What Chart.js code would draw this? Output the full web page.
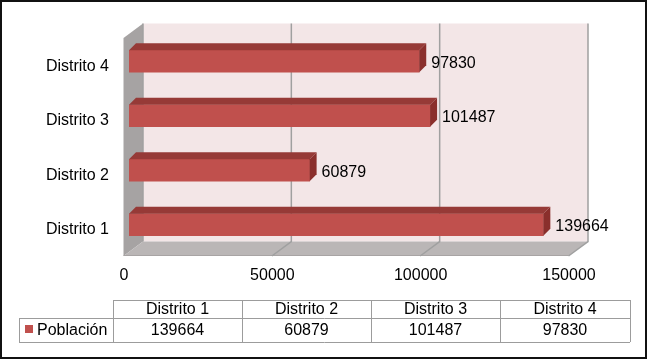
<!DOCTYPE html>
<html>
<head>
<meta charset="utf-8">
<script src="https://cdn.jsdelivr.net/npm/chart.js@4"></script>
<style>
  html, body { margin: 0; padding: 0; background: #fff; }
  #wrap { width: 649px; height: 360px; }
</style>
</head>
<body>
<div id="wrap"><canvas id="bar_chart" width="649" height="360"></canvas></div>
<script>
const distritos = ['Distrito 1', 'Distrito 2', 'Distrito 3', 'Distrito 4'];
const poblacion = [139664, 60879, 101487, 97830];
const seriesName = 'Población';
const xTicks = [0, 50000, 100000, 150000];

const FONT = '"Liberation Sans", Arial, sans-serif';
const barColor = '#c0504d';
const barTop = '#963a37';
const barSide = '#8a2f2c';

// depth of the 3d box (front plane -> back wall) and of the bars
const boxDx = 19.5, boxDy = -14.5;
const frontShiftX = -5.5, frontShiftY = 4;
const barDx = 7, barDy = -7;

const walls3d = {
  id: 'walls3d',
  beforeDatasetsDraw(chart) {
    const ctx = chart.ctx;
    const xs = chart.scales.x;
    const area = chart.chartArea;
    const fl = area.left + frontShiftX, fr = area.right + frontShiftX;
    const ft = area.top + frontShiftY, fb = area.bottom + frontShiftY;
    const bl = fl + boxDx, br = fr + boxDx, bt = ft + boxDy, bb = fb + boxDy;
    ctx.save();
    // back wall
    ctx.fillStyle = '#f3e6e7';
    ctx.fillRect(bl, bt, br - bl, bb - bt);
    // left wall
    ctx.fillStyle = '#a6a3a3';
    ctx.beginPath();
    ctx.moveTo(fl, ft); ctx.lineTo(bl, bt); ctx.lineTo(bl, bb); ctx.lineTo(fl, fb);
    ctx.closePath(); ctx.fill();
    // floor
    ctx.fillStyle = '#bab6b6';
    ctx.beginPath();
    ctx.moveTo(fl, fb); ctx.lineTo(bl, bb); ctx.lineTo(br, bb); ctx.lineTo(fr, fb);
    ctx.closePath(); ctx.fill();
    ctx.strokeStyle = '#a8a4a4';
    ctx.lineWidth = 1;
    ctx.beginPath();
    ctx.moveTo(fl, fb - 0.5); ctx.lineTo(fr, fb - 0.5);
    ctx.stroke();
    // grid lines on the back wall and the floor
    ctx.strokeStyle = '#a0a0a0';
    ctx.lineWidth = 1.5;
    xTicks.forEach((v) => {
      const x = xs.getPixelForValue(v) + frontShiftX;
      ctx.beginPath();
      ctx.moveTo(x + boxDx, bt);
      ctx.lineTo(x + boxDx, bb);
      if (v > 0) ctx.lineTo(x, fb);
      ctx.stroke();
    });
    ctx.restore();
  },
  afterDatasetsDraw(chart) {
    const ctx = chart.ctx;
    const meta = chart.getDatasetMeta(0);
    ctx.save();
    meta.data.forEach((bar, i) => {
      const p = bar.getProps(['x', 'y', 'base', 'height'], true);
      const x0 = p.base, x1 = p.x;
      const yt = p.y - p.height / 2, yb = p.y + p.height / 2;
      ctx.fillStyle = barTop;
      ctx.beginPath();
      ctx.moveTo(x0, yt); ctx.lineTo(x0 + barDx, yt + barDy);
      ctx.lineTo(x1 + barDx, yt + barDy); ctx.lineTo(x1, yt);
      ctx.closePath(); ctx.fill();
      ctx.fillStyle = barSide;
      ctx.beginPath();
      ctx.moveTo(x1, yt); ctx.lineTo(x1 + barDx, yt + barDy);
      ctx.lineTo(x1 + barDx, yb + barDy); ctx.lineTo(x1, yb);
      ctx.closePath(); ctx.fill();
      // value label
      ctx.fillStyle = '#000';
      ctx.font = '16px ' + FONT;
      ctx.textAlign = 'left';
      ctx.textBaseline = 'middle';
      ctx.fillText(String(poblacion[i]), x1 + 12, p.y + 2);
    });
    ctx.restore();
  },
  afterDraw(chart) {
    const ctx = chart.ctx;
    ctx.save();
    // data table
    const colX = [113, 242, 371, 500, 630];
    const rowY = [300, 318, 342];
    const keyLeft = 19;
    ctx.strokeStyle = '#9c9c9c';
    ctx.lineWidth = 1;
    ctx.beginPath();
    ctx.moveTo(colX[0], rowY[0] + 0.5); ctx.lineTo(colX[4], rowY[0] + 0.5);
    ctx.moveTo(keyLeft, rowY[1] + 0.5); ctx.lineTo(colX[4], rowY[1] + 0.5);
    ctx.moveTo(keyLeft, rowY[2] + 0.5); ctx.lineTo(colX[4], rowY[2] + 0.5);
    ctx.moveTo(keyLeft + 0.5, rowY[1]); ctx.lineTo(keyLeft + 0.5, rowY[2]);
    colX.forEach((x) => {
      ctx.moveTo(x + 0.5, rowY[0]); ctx.lineTo(x + 0.5, rowY[2]);
    });
    ctx.stroke();
    ctx.fillStyle = '#000';
    ctx.font = '16px ' + FONT;
    ctx.textAlign = 'center';
    ctx.textBaseline = 'middle';
    distritos.forEach((d, i) => {
      const cx = (colX[i] + colX[i + 1]) / 2;
      ctx.fillText(d, cx, (rowY[0] + rowY[1]) / 2 + 1);
      ctx.fillText(String(poblacion[i]), cx, (rowY[1] + rowY[2]) / 2 + 1);
    });
    ctx.fillStyle = barColor;
    ctx.fillRect(25, 325, 8, 8);
    ctx.fillStyle = '#000';
    ctx.textAlign = 'left';
    ctx.fillText(seriesName, 37, (rowY[1] + rowY[2]) / 2 + 1);
    // outer border
    ctx.strokeStyle = '#111';
    ctx.lineWidth = 2;
    ctx.strokeRect(1, 1, 645, 357);
    ctx.restore();
  }
};

const config = {
  type: 'bar',
  data: {
    labels: distritos,
    datasets: [{
      label: seriesName,
      data: poblacion,
      backgroundColor: barColor,
      borderWidth: 0,
      barThickness: 22
    }]
  },
  options: {
    indexAxis: 'y',
    responsive: false,
    animation: false,
    layout: {
      padding: { left: 0, top: 34, right: 75, bottom: 0 }
    },
    scales: {
      x: {
        min: 0,
        max: 150000,
        grid: { display: false, drawTicks: false },
        border: { display: false },
        afterFit: (s) => { s.height = 108; },
        ticks: {
          stepSize: 50000,
          padding: 14,
          labelOffset: -5,
          color: '#000',
          font: { size: 16, family: FONT },
          maxRotation: 0,
          callback: (v) => String(v)
        }
      },
      y: {
        reverse: true,
        grid: { display: false, drawTicks: false },
        border: { display: false },
        afterFit: (s) => { s.width = 129; },
        ticks: {
          padding: 20,
          labelOffset: 5,
          color: '#000',
          font: { size: 16, family: FONT }
        }
      }
    },
    plugins: {
      legend: { display: false },
      tooltip: { enabled: false },
      title: { display: false }
    }
  },
  plugins: [walls3d]
};

const barChartElement = document.getElementById('bar_chart');
const barChart = new Chart(barChartElement, config);
</script>
</body>
</html>
